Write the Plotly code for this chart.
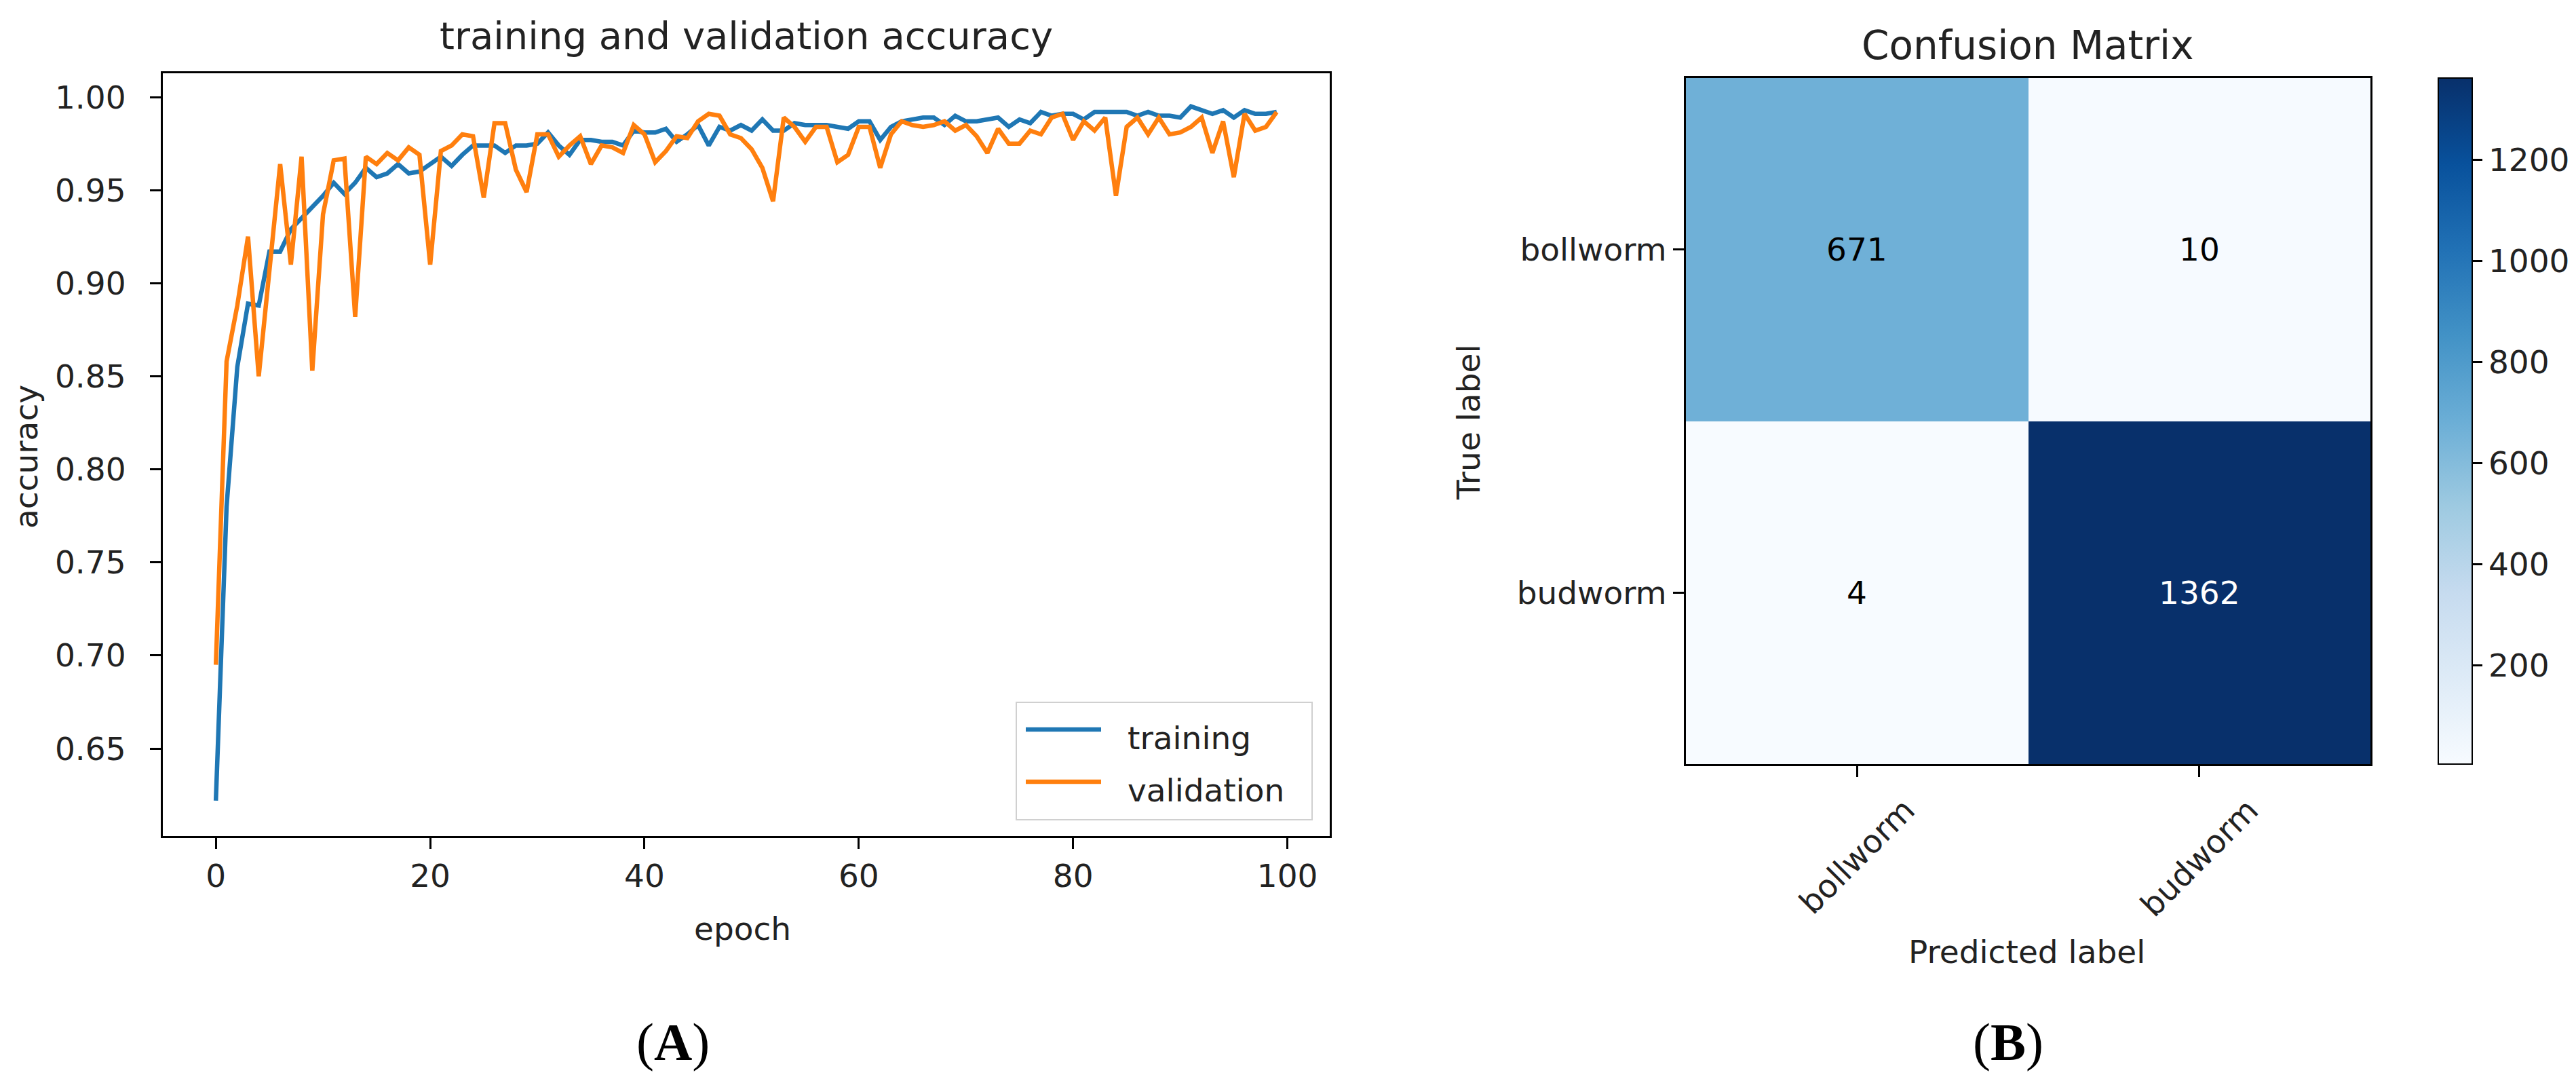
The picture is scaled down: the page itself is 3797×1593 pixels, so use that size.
import plotly.graph_objects as go
import plotly.colors as pc

# --- data ---
epochs = list(range(100))
train_acc = [
    0.622, 0.780, 0.855, 0.889, 0.888, 0.917, 0.917, 0.929, 0.935, 0.941,
    0.947, 0.954, 0.948, 0.954, 0.962, 0.957, 0.959, 0.964, 0.959, 0.960,
    0.964, 0.968, 0.963, 0.969, 0.974, 0.974, 0.974, 0.970, 0.974, 0.974,
    0.975, 0.981, 0.974, 0.969, 0.977, 0.977, 0.976, 0.976, 0.974, 0.982,
    0.981, 0.981, 0.983, 0.976, 0.980, 0.985, 0.974, 0.984, 0.982, 0.985,
    0.982, 0.988, 0.982, 0.982, 0.986, 0.985, 0.985, 0.985, 0.984, 0.983,
    0.987, 0.987, 0.977, 0.984, 0.987, 0.988, 0.989, 0.989, 0.985, 0.990,
    0.987, 0.987, 0.988, 0.989, 0.984, 0.988, 0.986, 0.992, 0.990, 0.991,
    0.991, 0.988, 0.992, 0.992, 0.992, 0.992, 0.990, 0.992, 0.990, 0.990,
    0.989, 0.995, 0.993, 0.991, 0.993, 0.989, 0.993, 0.991, 0.991, 0.992,
]
val_acc = [
    0.695, 0.858, 0.888, 0.925, 0.850, 0.905, 0.964, 0.910, 0.968, 0.853,
    0.937, 0.966, 0.967, 0.882, 0.968, 0.964, 0.970, 0.966, 0.973, 0.969,
    0.910, 0.971, 0.974, 0.980, 0.979, 0.946, 0.986, 0.986, 0.961, 0.949,
    0.980, 0.980, 0.968, 0.974, 0.979, 0.964, 0.974, 0.973, 0.970, 0.985,
    0.980, 0.965, 0.971, 0.979, 0.978, 0.987, 0.991, 0.990, 0.980, 0.978,
    0.972, 0.962, 0.944, 0.989, 0.984, 0.976, 0.984, 0.984, 0.965, 0.969,
    0.984, 0.984, 0.962, 0.980, 0.987, 0.985, 0.984, 0.985, 0.987, 0.982,
    0.985, 0.979, 0.970, 0.983, 0.975, 0.975, 0.982, 0.980, 0.989, 0.991,
    0.977, 0.987, 0.982, 0.989, 0.947, 0.984, 0.989, 0.980, 0.989, 0.980,
    0.981, 0.984, 0.989, 0.970, 0.987, 0.957, 0.991, 0.982, 0.984, 0.992,
]
acc_ticks = [0.65, 0.70, 0.75, 0.80, 0.85, 0.90, 0.95, 1.00]
epoch_ticks = [0, 20, 40, 60, 80, 100]

classes = ['bollworm', 'budworm']
conf_matrix = [[671, 10],
               [4, 1362]]
cbar_ticks = [200, 400, 600, 800, 1000, 1200]

W, H = 3797, 1593
FONT = 'DejaVu Sans'
TXT = '#222222'
BLUE, ORANGE = '#1f77b4', '#ff7f0e'


def px_x(x):
    return x / W


def px_y(y):
    return 1 - y / H


fig = go.Figure()

# --- (A) accuracy curves ---
fig.add_trace(go.Scatter(x=epochs, y=train_acc, mode='lines', name='training',
                         line=dict(color=BLUE, width=6.5), xaxis='x', yaxis='y',
                         showlegend=False))
fig.add_trace(go.Scatter(x=epochs, y=val_acc, mode='lines', name='validation',
                         line=dict(color=ORANGE, width=6.5), xaxis='x', yaxis='y',
                         showlegend=False))

# --- (B) confusion matrix ---
fig.add_trace(go.Heatmap(
    z=conf_matrix, x=classes, y=classes, xaxis='x2', yaxis='y2',
    colorscale=pc.sequential.Blues, zmin=min(min(r) for r in conf_matrix),
    zmax=max(max(r) for r in conf_matrix),
    colorbar=dict(x=px_x(3586), xanchor='left', xpad=0, ypad=0,
                  y=px_y((107 + 1118) / 2), yanchor='middle',
                  len=(1118 - 107) / H, lenmode='fraction', thickness=50, thicknessmode='pixels',
                  outlinecolor='black', outlinewidth=2, tickvals=cbar_ticks,
                  ticks='outside', ticklen=14, tickwidth=3, tickcolor='black',
                  tickfont=dict(family=FONT, size=47, color=TXT)),
))

axis_common = dict(showline=True, mirror=True, linecolor='black', linewidth=3,
                   ticks='outside', ticklen=16, tickwidth=3, tickcolor='black',
                   showgrid=False, zeroline=False,
                   tickfont=dict(family=FONT, size=47, color=TXT))

fig.update_layout(
    width=W, height=H, paper_bgcolor='white', plot_bgcolor='white',
    margin=dict(l=0, r=0, t=0, b=0), showlegend=False,
    xaxis=dict(domain=[px_x(232), px_x(1952)], range=[-4.95, 103.95], tickvals=epoch_ticks,
               anchor='y', **axis_common),
    yaxis=dict(domain=[px_y(1224), px_y(100)], range=[0.603, 1.0128], tickvals=acc_ticks,
               tickformat='.2f', anchor='x', ticklabelstandoff=26, **axis_common),
    xaxis2=dict(domain=[px_x(2477), px_x(3486)], range=[-0.5, 1.5], showticklabels=False,
                anchor='y2', **axis_common),
    yaxis2=dict(domain=[px_y(1118), px_y(107)], range=[1.5, -0.5], anchor='x2',
                **axis_common),
)

ann = []
# titles and axis labels
ann.append(dict(text='training and validation accuracy', x=px_x(1092), y=px_y(45),
                font=dict(size=56)))
ann.append(dict(text='epoch', x=px_x(1086), y=px_y(1360), font=dict(size=47)))
ann.append(dict(text='accuracy', x=px_x(30), y=px_y(665), textangle=-90, font=dict(size=47)))
ann.append(dict(text='Confusion Matrix', x=px_x(2981), y=px_y(59), font=dict(size=58)))
ann.append(dict(text='Predicted label', x=px_x(2979), y=px_y(1394), font=dict(size=47)))
ann.append(dict(text='True label', x=px_x(2156), y=px_y(615), textangle=-90, font=dict(size=47)))
for a in ann:
    a.update(xref='paper', yref='paper', xanchor='center', yanchor='middle', showarrow=False)
    a['font'].update(family=FONT, color=TXT)

# rotated class names under the matrix, centred on each tick like matplotlib
for c in classes:
    ann.append(dict(text=c, x=c, xref='x2', y=px_y(1155), yref='paper', textangle=-45,
                    xanchor='center', yanchor='top', showarrow=False,
                    font=dict(family=FONT, size=47, color=TXT)))

# panel letters
for letter, cx in (('A', 984), ('B', 2952)):
    ann.append(dict(text=f'(<b>{letter}</b>)', x=px_x(cx), y=px_y(1527), xref='paper', yref='paper',
                    xanchor='center', yanchor='middle', showarrow=False,
                    font=dict(family='Liberation Serif', size=78, color='black')))

# cell counts
thresh = max(max(r) for r in conf_matrix) / 2
for i, row in enumerate(conf_matrix):
    for j, v in enumerate(row):
        ann.append(dict(text=str(v), x=classes[j], y=classes[i], xref='x2', yref='y2',
                        showarrow=False,
                        font=dict(family=FONT, size=47, color='white' if v > thresh else 'black')))

# legend drawn by hand so the line samples are as long as matplotlib's
shapes = [dict(type='rect', xref='paper', yref='paper', x0=px_x(1490), x1=px_x(1926),
               y0=px_y(1200), y1=px_y(1027), line=dict(color='#d0d0d0', width=2),
               fillcolor='rgba(255,255,255,0.8)')]
for name, color, ly in (('training', BLUE, 1067), ('validation', ORANGE, 1144)):
    shapes.append(dict(type='line', xref='paper', yref='paper', x0=px_x(1504), x1=px_x(1615),
                       y0=px_y(ly), y1=px_y(ly), line=dict(color=color, width=6.5)))
    ann.append(dict(text=name, x=px_x(1652), y=px_y(ly + 12), xref='paper', yref='paper',
                    xanchor='left', yanchor='middle', showarrow=False,
                    font=dict(family=FONT, size=47, color=TXT)))

fig.update_layout(annotations=ann, shapes=shapes)

fig.write_html("out.html")
